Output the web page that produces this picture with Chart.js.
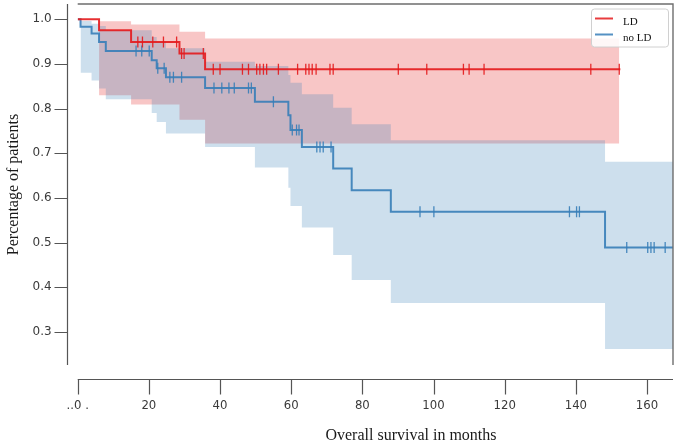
<!DOCTYPE html>
<html>
<head>
<meta charset="utf-8">
<script src="https://cdn.jsdelivr.net/npm/chart.js@4.4.1/dist/chart.umd.min.js"></script>
<style>
  html, body { margin: 0; padding: 0; background: #fff; }
  #km { display: block; }
</style>
</head>
<body>
<canvas id="km" width="676" height="443"></canvas>
<script>
// axis ticks
const xTickValues = [0, 20, 40, 60, 80, 100, 120, 140, 160];
const yTickValues = [0.3, 0.4, 0.5, 0.6, 0.7, 0.8, 0.9, 1.0];

// LD group: survival steps (time, value after the step)
const ldTimes    = [0, 6.0, 15.0, 28.6, 35.8, 152.5];
const ldSurvival = [1.0, 0.975, 0.949, 0.923, 0.888, 0.888];
const ldBandTimes = [6.0, 15.0, 28.6, 35.8, 152.2];
const ldUpper     = [0.9955, 0.988, 0.972, 0.957, 0.957];
const ldLower     = [0.830, 0.809, 0.775, 0.722, 0.722];
const ldCensored  = [16.9, 18.2, 21.1, 24.1, 27.8, 29.2, 29.9, 35.3, 38.1, 40.0, 46.3, 48.0,
                     50.3, 51.2, 52.2, 53.1, 56.4, 61.8, 64.1, 65.0, 65.9, 67.0, 70.9, 71.8,
                     90.1, 98.1, 108.4, 110.0, 114.2, 144.2, 152.2];

// no LD group
const nlTimes    = [0, 0.8, 3.9, 6.0, 7.9, 20.8, 22.2, 24.8, 35.8, 49.8, 59.2, 59.8, 63.0,
                    71.8, 77.0, 88.0, 148.2, 168];
const nlSurvival = [1.0, 0.983, 0.968, 0.949, 0.929, 0.908, 0.890, 0.870, 0.846, 0.815, 0.785,
                    0.752, 0.714, 0.666, 0.617, 0.569, 0.489, 0.489];
const nlBandTimes = [0.8, 3.9, 6.0, 7.9, 20.8, 22.2, 24.8, 35.8, 49.8, 59.2, 59.8, 63.0,
                     71.8, 77.0, 88.0, 148.2, 168];
const nlUpper     = [0.996, 0.990, 0.985, 0.975, 0.960, 0.950, 0.935, 0.905, 0.895, 0.875, 0.858,
                     0.832, 0.802, 0.765, 0.729, 0.681, 0.681];
const nlLower     = [0.880, 0.863, 0.845, 0.821, 0.790, 0.770, 0.744, 0.714, 0.668, 0.623, 0.582,
                     0.534, 0.472, 0.416, 0.365, 0.262, 0.262];
const nlCensored  = [16.4, 18.0, 20.1, 22.5, 24.3, 25.9, 26.9, 29.2, 38.3, 40.5, 42.5, 44.0,
                     48.0, 48.8, 55.0, 60.3, 61.5, 62.2, 67.2, 68.1, 69.0, 71.2, 96.2, 100.1,
                     138.2, 140.2, 141.0, 154.3, 160.2, 161.1, 162.0, 165.1];

const RED = '#e41a1c';
const BLUE = '#377eb8';

function pts(xs, ys) {
    return xs.map((x, i) => ({ x: x, y: ys[i] }));
}

// value of the step curve at time t
function valueAt(times, values, t) {
    let v = values[0];
    for (let i = 0; i < times.length; i++) {
        if (times[i] <= t) v = values[i];
    }
    return v;
}

function censorPts(cens, times, values) {
    return cens.map(t => ({ x: t, y: valueAt(times, values, t) }));
}

// no extra end padding from tick labels
function noPad(s) {
    s.paddingLeft = s.paddingRight = s.paddingTop = s.paddingBottom = 0;
}

// offset spines + ticks (seaborn style), top/right frame, legend, x title
const decorations = {
    id: 'decorations',
    afterDraw(chart) {
        const { ctx, chartArea: a, scales: { x, y } } = chart;
        ctx.save();

        // frame top / right
        ctx.strokeStyle = '#6e6e6e';
        ctx.lineWidth = 1.4;
        ctx.beginPath();
        ctx.moveTo(a.left, a.top);
        ctx.lineTo(a.right, a.top);
        ctx.lineTo(a.right, a.bottom);
        ctx.stroke();

        // left spine
        ctx.strokeStyle = '#555';
        ctx.lineWidth = 1.2;
        const sx = Math.round(a.left - 11) + 0.5;
        ctx.beginPath();
        ctx.moveTo(sx, a.top);
        ctx.lineTo(sx, a.bottom);
        y.ticks.forEach(t => {
            const py = Math.round(y.getPixelForValue(t.value)) + 0.5;
            ctx.moveTo(sx - 13, py);
            ctx.lineTo(sx, py);
        });
        // bottom spine
        const sy = Math.round(a.bottom + 14) + 0.5;
        ctx.moveTo(a.left, sy);
        ctx.lineTo(a.right, sy);
        x.ticks.forEach(t => {
            const px = Math.round(x.getPixelForValue(t.value)) + 0.5;
            ctx.moveTo(px, sy);
            ctx.lineTo(px, sy + 15);
        });
        ctx.stroke();

        // x title
        ctx.fillStyle = '#1a1a1a';
        ctx.font = '16px "Liberation Serif", "DejaVu Serif", serif';
        ctx.textAlign = 'center';
        ctx.textBaseline = 'middle';
        ctx.fillText('Overall survival in months', 411, 436);

        // legend
        const lx = a.right - 82, ly = a.top + 4.5, lw = 77, lh = 38;
        ctx.fillStyle = 'rgba(255,255,255,0.85)';
        ctx.strokeStyle = '#d0d0d0';
        ctx.lineWidth = 1;
        ctx.beginPath();
        ctx.roundRect(lx + 0.5, ly + 0.5, lw, lh, 3);
        ctx.fill();
        ctx.stroke();
        const items = [['LD', RED, ly + 13], ['no LD', BLUE, ly + 29]];
        ctx.font = '11px "Liberation Serif", "DejaVu Serif", serif';
        ctx.textAlign = 'left';
        items.forEach(([label, col, yy]) => {
            ctx.strokeStyle = col;
            ctx.globalAlpha = 0.85;
            ctx.lineWidth = 2;
            ctx.beginPath();
            ctx.moveTo(lx + 4, yy - 3);
            ctx.lineTo(lx + 22, yy - 3);
            ctx.stroke();
            ctx.globalAlpha = 1;
            ctx.fillStyle = '#111';
            ctx.fillText(label, lx + 32, yy + 1);
        });
        ctx.restore();
    }
};

const stepLine = (label, data, color, order) => ({
    label: label, data: data, stepped: true, borderColor: color, borderWidth: 2,
    pointRadius: 0, fill: false, order: order
});
const bandEdge = (label, data, fill, bg, order) => ({
    label: label, data: data, stepped: true, borderWidth: 0, borderColor: 'rgba(0,0,0,0)',
    pointRadius: 0, fill: fill, backgroundColor: bg, order: order
});
const censors = (label, data, color) => ({
    label: label, data: data, showLine: false, pointStyle: 'line', rotation: 90,
    pointRadius: 5.5, borderColor: color, borderWidth: 1.3, order: 0
});

new Chart(document.getElementById('km'), {
    type: 'line',
    data: {
        datasets: [
            bandEdge('no LD upper', pts(nlBandTimes, nlUpper), '+1', 'rgba(55,126,184,0.25)', 3),
            bandEdge('no LD lower', pts(nlBandTimes, nlLower), false, 'rgba(0,0,0,0)', 3),
            bandEdge('LD upper', pts(ldBandTimes, ldUpper), '+1', 'rgba(228,26,28,0.25)', 4),
            bandEdge('LD lower', pts(ldBandTimes, ldLower), false, 'rgba(0,0,0,0)', 4),
            stepLine('LD', pts(ldTimes, ldSurvival), 'rgba(228,26,28,0.9)', 1),
            stepLine('no LD', pts(nlTimes, nlSurvival), 'rgba(55,126,184,0.9)', 1),
            censors('LD censored', censorPts(ldCensored, ldTimes, ldSurvival), 'rgba(228,26,28,0.9)'),
            censors('no LD censored', censorPts(nlCensored, nlTimes, nlSurvival), 'rgba(55,126,184,0.9)')
        ]
    },
    options: {
        responsive: false,
        animation: false,
        devicePixelRatio: 1,
        layout: { autoPadding: false, padding: { top: 4, right: 3, left: 0, bottom: 0 } },
        plugins: { legend: { display: false }, tooltip: { enabled: false } },
        scales: {
            x: {
                type: 'linear', min: 0, max: 167.3,
                afterBuildTicks: s => { s.ticks = xTickValues.map(v => ({ value: v })); },
                afterFit: s => { s.height = 78; noPad(s); },
                grid: { display: false, drawTicks: false },
                border: { display: false },
                ticks: {
                    padding: 33, color: '#3a3a3a', maxRotation: 0, autoSkip: false,
                    font: { family: '"DejaVu Sans Condensed", "Liberation Sans Narrow", "DejaVu Sans", sans-serif', size: 13 },
                    callback: v => v === 0 ? '..0 .' : String(v)
                }
            },
            y: {
                type: 'linear', min: 0.226, max: 1.034,
                afterBuildTicks: s => { s.ticks = yTickValues.map(v => ({ value: v })); },
                afterFit: s => { s.width = 77.7; noPad(s); },
                grid: { display: false, drawTicks: false },
                border: { display: false },
                ticks: {
                    padding: 26, color: '#3a3a3a',
                    font: { family: '"DejaVu Sans", sans-serif', size: 12 },
                    callback: v => v.toFixed(1)
                },
                title: {
                    display: true, text: 'Percentage of patients', color: '#1a1a1a',
                    font: { family: '"Liberation Serif", "DejaVu Serif", serif', size: 16 },
                    padding: { top: 4, bottom: 4 }
                }
            }
        }
    },
    plugins: [decorations]
});
</script>
</body>
</html>
